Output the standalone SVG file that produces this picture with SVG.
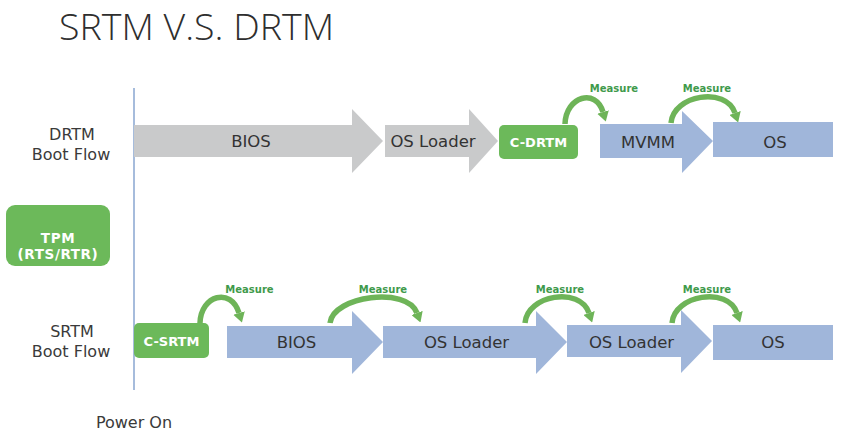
<svg xmlns="http://www.w3.org/2000/svg" width="846" height="433" viewBox="0 0 846 433">
<style>
.lbl{font-family:"DejaVu Sans",Verdana,sans-serif;font-size:16px;fill:#3a3a3a;text-anchor:middle}
.nt{font-family:"DejaVu Sans",Verdana,sans-serif;font-size:16.5px;fill:#333;text-anchor:middle}
.gt{font-family:"DejaVu Sans",Verdana,sans-serif;font-size:13px;font-weight:bold;fill:#fff;text-anchor:middle}
.tp{font-family:"DejaVu Sans",Verdana,sans-serif;font-size:13.5px;font-weight:bold;fill:#fff;text-anchor:middle;letter-spacing:0.6px}
.ms{font-family:"DejaVu Sans",Verdana,sans-serif;font-size:10px;font-weight:bold;fill:#3f9a4b;text-anchor:middle}
.gray{fill:#c9cacb}
.blue{fill:#a0b6da}
.green{fill:#6cb95a}
.arc{fill:none;stroke:#6eb458;stroke-width:5.5;marker-end:url(#ah)}
</style>
<defs>
<marker id="ah" viewBox="0 0 10 12" refX="0" refY="6" markerWidth="10" markerHeight="12" markerUnits="userSpaceOnUse" orient="auto">
<path d="M0,0 L10,6 L0,12 z" fill="#6eb458"/>
</marker>
</defs>
<rect width="846" height="433" fill="#fff"/>
<text x="59" y="40" font-family="'Open Sans','Noto Sans',sans-serif" font-weight="300" font-size="37.5" fill="#2e2e2e">SRTM V.S. DRTM</text>
<line x1="134" y1="88" x2="134" y2="390" stroke="#a6bcdc" stroke-width="2"/>
<g id="labels">
<text class="lbl" x="72" y="140">DRTM</text>
<text class="lbl" x="71" y="160">Boot Flow</text>
<text class="lbl" x="72" y="337">SRTM</text>
<text class="lbl" x="71" y="357">Boot Flow</text>
<text class="lbl" x="134" y="428">Power On</text>
</g>
<g id="connectors">
<path class="arc" d="M565 124 C566 96,596 88,603 112"/>
<path class="arc" d="M671 123 C673 95,726 86,735 113"/>
<path class="arc" d="M200 323 C201 295,231 287,239 313"/>
<path class="arc" d="M330 323 C333 296,407 286,417 313"/>
<path class="arc" d="M525 323 C527 295,580 286,589 313"/>
<path class="arc" d="M672 323 C674 295,728 286,737 313"/>
</g>
<g id="tpm">
<rect class="green" x="6" y="205" width="104" height="61" rx="9"/>
<text class="tp" x="58" y="243">TPM</text>
<text class="tp" x="58" y="258.5">(RTS/RTR)</text>
</g>
<g id="d-bios">
<polygon class="gray" points="134,125 352,125 352,109 383,141 352,173 352,157 134,157"/>
<text class="nt" x="251" y="147">BIOS</text>
</g>
<g id="d-osloader">
<polygon class="gray" points="385,125 469,125 469,109 498,141 469,173 469,157 385,157"/>
<text class="nt" x="433" y="147">OS Loader</text>
</g>
<g id="c-drtm">
<rect class="green" x="499" y="125" width="79" height="34" rx="5"/>
<text class="gt" x="538.5" y="147">C-DRTM</text>
</g>
<g id="d-mvmm">
<polygon class="blue" points="600,124 682,124 682,111 713,141 682,173 682,158 600,158"/>
<text class="nt" x="648" y="148">MVMM</text>
</g>
<g id="d-os">
<rect class="blue" x="713" y="122" width="120" height="35"/>
<text class="nt" x="775" y="148">OS</text>
</g>
<g id="c-srtm">
<rect class="green" x="134" y="323" width="75" height="35" rx="5"/>
<text class="gt" x="171.5" y="346">C-SRTM</text>
</g>
<g id="s-bios">
<polygon class="blue" points="227,326 352,326 352,311 383,342 352,374 352,358 227,358"/>
<text class="nt" x="296.5" y="348">BIOS</text>
</g>
<g id="s-osloader1">
<polygon class="blue" points="383,326 536,326 536,311 567,342 536,374 536,358 383,358"/>
<text class="nt" x="466.5" y="348">OS Loader</text>
</g>
<g id="s-osloader2">
<polygon class="blue" points="567,325 681,325 681,310 712,341 681,373 681,357 567,357"/>
<text class="nt" x="631.5" y="348">OS Loader</text>
</g>
<g id="s-os">
<rect class="blue" x="713" y="325" width="120" height="35"/>
<text class="nt" x="773" y="348">OS</text>
</g>
<g id="measure-labels">
<text class="ms" x="614" y="92">Measure</text>
<text class="ms" x="707" y="92">Measure</text>
<text class="ms" x="249.5" y="293">Measure</text>
<text class="ms" x="383" y="293">Measure</text>
<text class="ms" x="560" y="293">Measure</text>
<text class="ms" x="707" y="293">Measure</text>
</g>
</svg>
